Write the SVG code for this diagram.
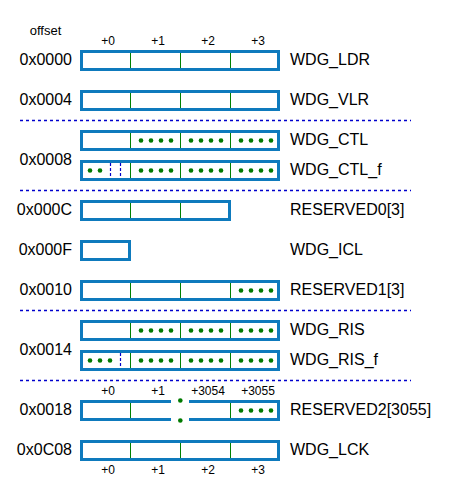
<svg xmlns="http://www.w3.org/2000/svg" width="451" height="489" viewBox="0 0 451 489">
<style>
text{font-family:"Liberation Sans",Arial,sans-serif;fill:#000}
.off{font-size:16px;text-anchor:end}
.name{font-size:16px}
.idx{font-size:12px;text-anchor:middle}
.hdr{font-size:13px;text-anchor:middle}
.box{fill:#fff;stroke:#0e7abd;stroke-width:3}
.brk{fill:none;stroke:#0e7abd;stroke-width:3}
.div{stroke:#008000;stroke-width:1}
.dot{fill:#007a00}
.sep{stroke:#0000cc;stroke-width:1.3;stroke-dasharray:3 3;fill:none}
.vsep{stroke:#0000cc;stroke-width:1.2;stroke-dasharray:3 2;fill:none}
</style>
<defs>
<g id="d4"><circle class="dot" cx="11" cy="0" r="2.3"/><circle class="dot" cx="21" cy="0" r="2.3"/><circle class="dot" cx="31" cy="0" r="2.3"/><circle class="dot" cx="41" cy="0" r="2.3"/></g>
</defs>
<text class="hdr" x="45.5" y="34.5">offset</text>
<g id="hdr-top"><text class="idx" x="108" y="45">+0</text><text class="idx" x="158" y="45">+1</text><text class="idx" x="208" y="45">+2</text><text class="idx" x="258" y="45">+3</text></g>

<g id="separators">
<line class="sep" x1="20" y1="120.5" x2="411" y2="120.5"/>
<line class="sep" x1="20" y1="190.5" x2="411" y2="190.5"/>
<line class="sep" x1="20" y1="310.5" x2="411" y2="310.5"/>
<line class="sep" x1="20" y1="380.5" x2="411" y2="380.5"/>
</g>

<g id="WDG_LDR">
<text class="off" x="72" y="64.5">0x0000</text>
<rect class="box" x="81.5" y="51.5" width="197" height="18"/>
<line class="div" x1="130.5" y1="53" x2="130.5" y2="68"/><line class="div" x1="180.5" y1="53" x2="180.5" y2="68"/><line class="div" x1="230.5" y1="53" x2="230.5" y2="68"/>
<text class="name" x="290" y="64.5">WDG_LDR</text>
</g>

<g id="WDG_VLR">
<text class="off" x="72" y="104.5">0x0004</text>
<rect class="box" x="81.5" y="91.5" width="197" height="18"/>
<line class="div" x1="130.5" y1="93" x2="130.5" y2="108"/><line class="div" x1="180.5" y1="93" x2="180.5" y2="108"/><line class="div" x1="230.5" y1="93" x2="230.5" y2="108"/>
<text class="name" x="290" y="104.5">WDG_VLR</text>
</g>

<text class="off" x="72" y="164.5">0x0008</text>
<g id="WDG_CTL">
<rect class="box" x="81.5" y="131.5" width="197" height="18"/>
<line class="div" x1="130.5" y1="133" x2="130.5" y2="148"/><line class="div" x1="180.5" y1="133" x2="180.5" y2="148"/><line class="div" x1="230.5" y1="133" x2="230.5" y2="148"/>
<use href="#d4" x="130" y="140.5"/><use href="#d4" x="180" y="140.5"/><use href="#d4" x="230" y="140.5"/>
<text class="name" x="290" y="144.5">WDG_CTL</text>
</g>

<g id="WDG_CTL_f">
<rect class="box" x="81.5" y="161.5" width="197" height="18"/>
<line class="vsep" x1="110.5" y1="163" x2="110.5" y2="178"/><line class="vsep" x1="120.5" y1="163" x2="120.5" y2="178"/>
<line class="div" x1="130.5" y1="163" x2="130.5" y2="178"/><line class="div" x1="180.5" y1="163" x2="180.5" y2="178"/><line class="div" x1="230.5" y1="163" x2="230.5" y2="178"/>
<circle class="dot" cx="90" cy="170.5" r="2.3"/><circle class="dot" cx="100" cy="170.5" r="2.3"/>
<use href="#d4" x="130" y="170.5"/><use href="#d4" x="180" y="170.5"/><use href="#d4" x="230" y="170.5"/>
<text class="name" x="290" y="174.5">WDG_CTL_f</text>
</g>

<g id="RESERVED0">
<text class="off" x="72" y="214.5">0x000C</text>
<rect class="box" x="81.5" y="201.5" width="148" height="18"/>
<line class="div" x1="130.5" y1="203" x2="130.5" y2="218"/><line class="div" x1="180.5" y1="203" x2="180.5" y2="218"/>
<text class="name" x="290" y="214.5">RESERVED0[3]</text>
</g>

<g id="WDG_ICL">
<text class="off" x="72" y="254.5">0x000F</text>
<rect class="box" x="81.5" y="241.5" width="48" height="18"/>
<text class="name" x="290" y="254.5">WDG_ICL</text>
</g>

<g id="RESERVED1">
<text class="off" x="72" y="294.5">0x0010</text>
<rect class="box" x="81.5" y="281.5" width="197" height="18"/>
<line class="div" x1="130.5" y1="283" x2="130.5" y2="298"/><line class="div" x1="180.5" y1="283" x2="180.5" y2="298"/><line class="div" x1="230.5" y1="283" x2="230.5" y2="298"/>
<use href="#d4" x="230" y="290.5"/>
<text class="name" x="290" y="294.5">RESERVED1[3]</text>
</g>

<text class="off" x="72" y="354.5">0x0014</text>
<g id="WDG_RIS">
<rect class="box" x="81.5" y="321.5" width="197" height="18"/>
<line class="div" x1="130.5" y1="323" x2="130.5" y2="338"/><line class="div" x1="180.5" y1="323" x2="180.5" y2="338"/><line class="div" x1="230.5" y1="323" x2="230.5" y2="338"/>
<use href="#d4" x="130" y="330.5"/><use href="#d4" x="180" y="330.5"/><use href="#d4" x="230" y="330.5"/>
<text class="name" x="290" y="334.5">WDG_RIS</text>
</g>

<g id="WDG_RIS_f">
<rect class="box" x="81.5" y="351.5" width="197" height="18"/>
<line class="vsep" x1="120.5" y1="353" x2="120.5" y2="368"/>
<line class="div" x1="130.5" y1="353" x2="130.5" y2="368"/><line class="div" x1="180.5" y1="353" x2="180.5" y2="368"/><line class="div" x1="230.5" y1="353" x2="230.5" y2="368"/>
<circle class="dot" cx="90" cy="360.5" r="2.3"/><circle class="dot" cx="100" cy="360.5" r="2.3"/><circle class="dot" cx="110" cy="360.5" r="2.3"/>
<use href="#d4" x="130" y="360.5"/><use href="#d4" x="180" y="360.5"/><use href="#d4" x="230" y="360.5"/>
<text class="name" x="290" y="364.5">WDG_RIS_f</text>
</g>

<g id="RESERVED2">
<text class="idx" x="108" y="395">+0</text><text class="idx" x="158" y="395">+1</text><text class="idx" x="208" y="395">+3054</text><text class="idx" x="258" y="395">+3055</text>
<text class="off" x="72" y="414.5">0x0018</text>
<rect x="81.5" y="401.5" width="197" height="18" fill="#fff"/>
<path class="brk" d="M171 401.5H81.5V419.5H171"/>
<path class="brk" d="M189 401.5H278.5V419.5H189"/>
<line class="div" x1="130.5" y1="403" x2="130.5" y2="418"/><line class="div" x1="230.5" y1="403" x2="230.5" y2="418"/>
<circle class="dot" cx="180.3" cy="400.5" r="2.3"/><circle class="dot" cx="180.3" cy="420.5" r="2.3"/>
<use href="#d4" x="230" y="410.5"/>
<text class="name" x="290" y="414.5">RESERVED2[3055]</text>
</g>

<g id="WDG_LCK">
<text class="off" x="72" y="454.5">0x0C08</text>
<rect class="box" x="81.5" y="441.5" width="197" height="18"/>
<line class="div" x1="130.5" y1="443" x2="130.5" y2="458"/><line class="div" x1="180.5" y1="443" x2="180.5" y2="458"/><line class="div" x1="230.5" y1="443" x2="230.5" y2="458"/>
<text class="name" x="290" y="454.5">WDG_LCK</text>
<text class="idx" x="108" y="474">+0</text><text class="idx" x="158" y="474">+1</text><text class="idx" x="208" y="474">+2</text><text class="idx" x="258" y="474">+3</text>
</g>
</svg>
